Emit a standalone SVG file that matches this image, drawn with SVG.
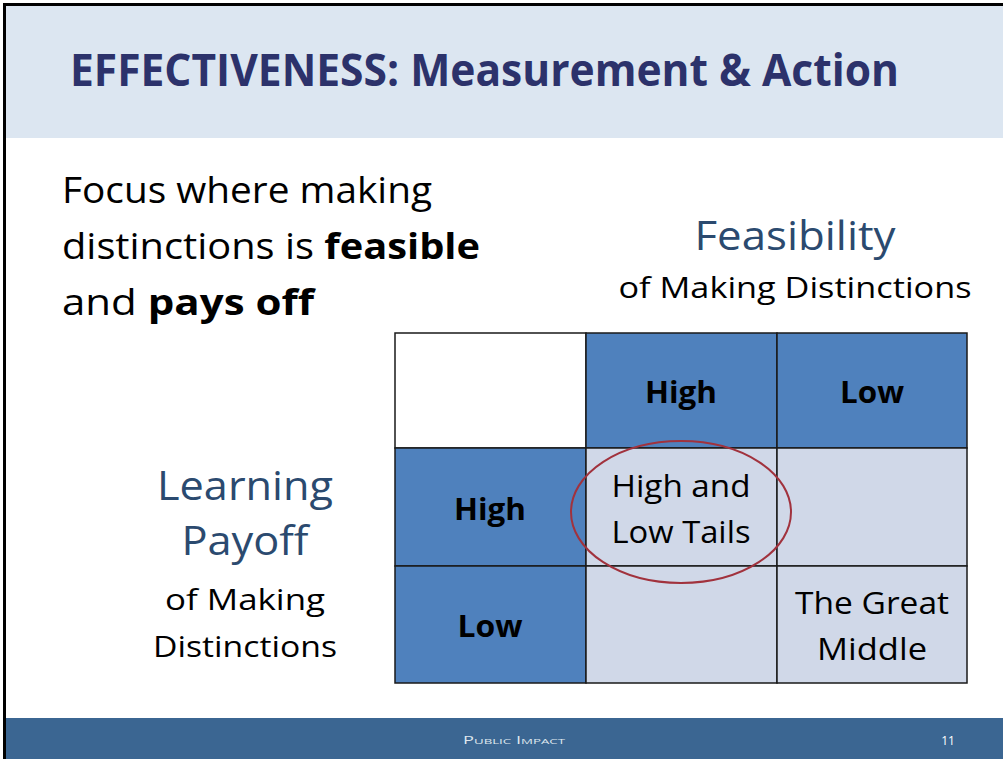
<svg xmlns="http://www.w3.org/2000/svg" width="1003" height="759" viewBox="0 0 1003 759">
<style>
.t{font-family:"Open Sans","Noto Sans",sans-serif;}
.cell-d{fill:#4f81bd;stroke:#1a1a1a;stroke-width:1.5}
.cell-l{fill:#d0d8e8;stroke:#1a1a1a;stroke-width:1.5}
.cell-w{fill:#ffffff;stroke:#1a1a1a;stroke-width:1.5}
.hd{font-weight:bold;font-size:31px;fill:#000}
.ct{font-size:31px;fill:#000}
.ax{font-size:40px;fill:#2b4a6f}
.sub{font-size:30px;fill:#000}
</style>
<rect x="0" y="0" width="1003" height="759" fill="#ffffff"/>
<rect x="5" y="5" width="998" height="133" fill="#dce6f1"/>
<rect x="5" y="718" width="998" height="41" fill="#3b6692"/>
<path d="M4.5 759V4.5H1003" fill="none" stroke="#000" stroke-width="3"/>
<g id="title">
<text class="t" x="70" y="86" font-size="44" font-weight="bold" fill="#2c326b" textLength="829" lengthAdjust="spacingAndGlyphs">EFFECTIVENESS: Measurement &amp; Action</text>
</g>
<g id="intro">
<text class="t" x="62" y="203" font-size="36" fill="#000" textLength="370" lengthAdjust="spacingAndGlyphs">Focus where making</text>
<text class="t" x="62" y="259" font-size="36" fill="#000" textLength="418" lengthAdjust="spacingAndGlyphs">distinctions is <tspan font-weight="bold">feasible</tspan></text>
<text class="t" x="62" y="315" font-size="36" fill="#000" textLength="252" lengthAdjust="spacingAndGlyphs">and <tspan font-weight="bold">pays off</tspan></text>
</g>
<g id="feasibility-label" text-anchor="middle">
<text class="t ax" x="795" y="250" textLength="201" lengthAdjust="spacingAndGlyphs">Feasibility</text>
<text class="t sub" x="795" y="298" textLength="353" lengthAdjust="spacingAndGlyphs">of Making Distinctions</text>
</g>
<g id="payoff-label" text-anchor="middle">
<text class="t ax" x="245" y="500" textLength="176" lengthAdjust="spacingAndGlyphs">Learning</text>
<text class="t ax" x="245" y="555" textLength="127" lengthAdjust="spacingAndGlyphs">Payoff</text>
<text class="t sub" x="245" y="610" textLength="160" lengthAdjust="spacingAndGlyphs">of Making</text>
<text class="t sub" x="245" y="657" textLength="184" lengthAdjust="spacingAndGlyphs">Distinctions</text>
</g>
<g id="grid" text-anchor="middle">
<rect class="cell-w" x="395" y="333" width="191" height="115"/>
<rect class="cell-d" x="586" y="333" width="191" height="115"/>
<rect class="cell-d" x="777" y="333" width="190" height="115"/>
<rect class="cell-d" x="395" y="448" width="191" height="118"/>
<rect class="cell-l" x="586" y="448" width="191" height="118"/>
<rect class="cell-l" x="777" y="448" width="190" height="118"/>
<rect class="cell-d" x="395" y="566" width="191" height="117"/>
<rect class="cell-l" x="586" y="566" width="191" height="117"/>
<rect class="cell-l" x="777" y="566" width="190" height="117"/>
<text class="t hd" x="681" y="403" textLength="72" lengthAdjust="spacingAndGlyphs">High</text>
<text class="t hd" x="872" y="403" textLength="64" lengthAdjust="spacingAndGlyphs">Low</text>
<text class="t hd" x="490" y="520" textLength="72" lengthAdjust="spacingAndGlyphs">High</text>
<text class="t hd" x="490" y="637" textLength="65" lengthAdjust="spacingAndGlyphs">Low</text>
<text class="t ct" x="681" y="497" textLength="139" lengthAdjust="spacingAndGlyphs">High and</text>
<text class="t ct" x="681" y="543" textLength="139" lengthAdjust="spacingAndGlyphs">Low Tails</text>
<text class="t ct" x="872" y="614" textLength="154" lengthAdjust="spacingAndGlyphs">The Great</text>
<text class="t ct" x="872" y="660" textLength="110" lengthAdjust="spacingAndGlyphs">Middle</text>
</g>
<g id="highlight">
<ellipse cx="681" cy="512" rx="110" ry="71" fill="none" stroke="#a1323d" stroke-width="2"/>
</g>
<g id="footer">
<text class="t" x="514" y="744" text-anchor="middle" font-size="11" fill="#dfe6ee" textLength="102" lengthAdjust="spacingAndGlyphs">P<tspan font-size="8">UBLIC</tspan> I<tspan font-size="8">MPACT</tspan></text>
<text class="t" x="948" y="745" text-anchor="middle" font-size="12" fill="#ffffff">11</text>
</g>
</svg>
